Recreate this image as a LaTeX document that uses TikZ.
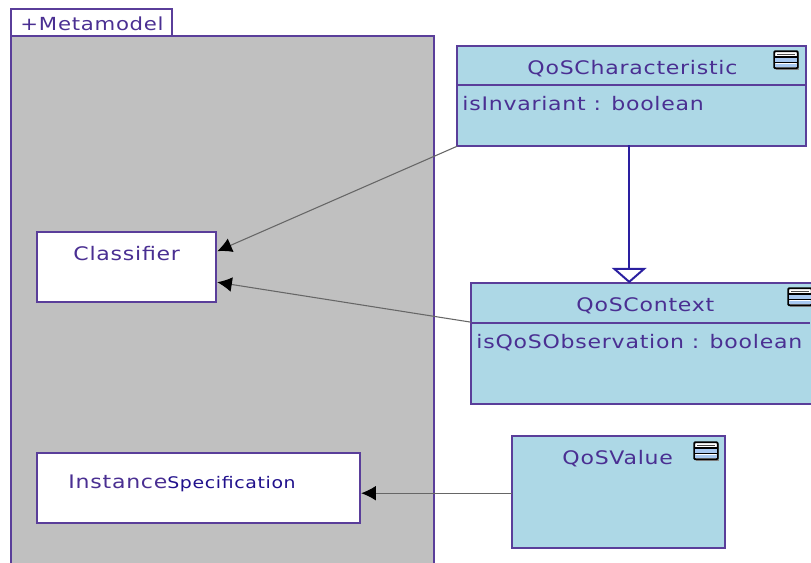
\documentclass[tikz,border=0pt]{standalone}
\usepackage{fontspec}
\setmainfont{DejaVu Sans}
\newfontfamily\umlfont[FakeStretch=1.18,LetterSpace=4]{DejaVu Sans}
\usetikzlibrary{arrows.meta}
\definecolor{umlline}{HTML}{5A3E9A}
\definecolor{umltext}{HTML}{4A2F92}
\definecolor{umlnavy}{HTML}{20108C}
\definecolor{umlblue}{HTML}{ADD8E6}
\definecolor{umlband}{HTML}{A8C8F0}
\definecolor{umlgrey}{HTML}{C0C0C0}
\definecolor{genline}{HTML}{2A1FA0}
\tikzset{
  pkg/.style={draw=umlline,line width=1.5pt,anchor=north west,inner sep=0pt},
  cls/.style={draw=umlline,line width=1.5pt,fill=umlblue,anchor=north west,inner sep=0pt},
  meta/.style={draw=umlline,line width=1.5pt,fill=white,anchor=north west,inner sep=0pt},
  lbl/.style={text=umltext,anchor=base west,inner sep=0pt,font=\umlfont\fontsize{14}{16}\selectfont},
  dep/.style={draw=black!60,line width=0.8pt,-{Latex[length=11pt,width=11pt,black]}},
  gen/.style={draw=genline,line width=1.5pt,-{Triangle[open,length=11.5pt,width=26pt,fill=white]}},
}
\newcommand{\stereoicon}[2]{%
  \begin{scope}[shift={(#1,#2)}]
    \fill[black!45] (1.5,1.5) rectangle (25,18.5);
    \draw[black,line width=1.4pt,fill=white,rounded corners=0.8pt] (0,0) rectangle (23.5,17);
    \fill[umlband] (1,7) rectangle (22.5,10.5);
    \fill[umlband] (1,12.5) rectangle (22.5,16);
    \draw[black,line width=1.1pt] (0,6) -- (23.5,6) (0,11.5) -- (23.5,11.5);
    \draw[black!70,line width=0.8pt] (3,3) -- (20.5,3);
  \end{scope}}
\begin{document}
\begin{tikzpicture}[x=0.75pt,y=-0.75pt]
\useasboundingbox (0,0) rectangle (811,562);
\begin{scope}
\clip (0,0) rectangle (811,562);
\begin{scope}[shift={(-0.8,-0.8)}]
% package
\node[pkg,minimum width=161*0.75pt,minimum height=27*0.75pt] (tab) at (11,9) {};
\node[pkg,fill=umlgrey,minimum width=423*0.75pt,minimum height=540*0.75pt] (pack) at (11,36) {};
\node[lbl,font=\umlfont\fontsize{13.5}{15}\selectfont] (packlabel) at (21,31.5) {+Metamodel};
% metaclasses
\node[meta,minimum width=179*0.75pt,minimum height=70*0.75pt] (clf) at (37,232) {};
\node[lbl] (clftext) at (74,261) {Classifier};
\node[meta,minimum width=323*0.75pt,minimum height=70*0.75pt] (inst) at (37,453) {};
\node[lbl] (insttext) at (69,489) {Instance\textcolor{umlnavy}{\fontsize{12}{13}\selectfont Specification}};
% QoSCharacteristic
\node[cls,minimum width=349*0.75pt,minimum height=100*0.75pt] (char) at (457,46) {};
\draw[umlline,line width=1.5pt] (457,86) -- (806,86);
\node[lbl] (chartext) at (528,75) {QoSCharacteristic};
\node[lbl] (charattr) at (463,111) {isInvariant : boolean};
\stereoicon{775}{52}
% QoSContext
\node[cls,minimum width=360*0.75pt,minimum height=121*0.75pt] (ctx) at (471,283) {};
\draw[umlline,line width=1.5pt] (471,324) -- (811,324);
\node[lbl] (ctxtext) at (577,312) {QoSContext};
\node[lbl] (ctxattr) at (477,349) {isQoSObservation : boolean};
\stereoicon{789}{289}
% QoSValue
\node[cls,minimum width=213*0.75pt,minimum height=112*0.75pt] (val) at (512,436) {};
\node[lbl] (valtext) at (563,465) {QoSValue};
\stereoicon{695}{443}
% connector ends
\coordinate (clfa) at (218,252);
\coordinate (clfb) at (218,283);
\coordinate (insta) at (362,494);
\coordinate (chartail) at (458,147);
\coordinate (ctxtail) at (472,323);
\coordinate (valtail) at (513,494);
\coordinate (gentail) at (630,146);
\coordinate (gentip) at (630,284);
\draw[dep] (chartail) -- (clfa);
\draw[dep] (ctxtail) -- (clfb);
\draw[dep] (valtail) -- (insta);
\draw[gen] (gentail) -- (gentip);
\end{scope}
\end{scope}
\end{tikzpicture}
\end{document}
